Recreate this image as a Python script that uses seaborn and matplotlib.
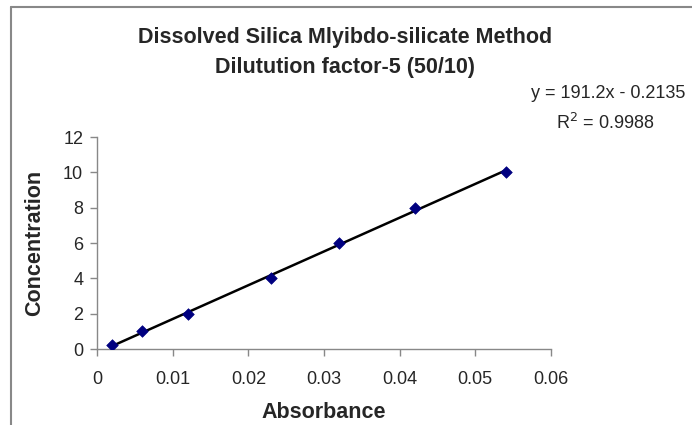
import numpy as np
import pandas as pd
import seaborn as sns
import matplotlib.pyplot as plt
from matplotlib.lines import Line2D

# Data
absorbance = [0.002, 0.006, 0.012, 0.023, 0.032, 0.042, 0.054]
concentration = [0.2, 1, 2, 4, 6, 8, 10]
slope = 191.2
intercept = -0.2135
r_squared = 0.9988
x_ticks = [0, 0.01, 0.02, 0.03, 0.04, 0.05, 0.06]
x_tick_labels = ["0", "0.01", "0.02", "0.03", "0.04", "0.05", "0.06"]

df = pd.DataFrame({"Absorbance": absorbance, "Concentration": concentration})
fit = pd.DataFrame({"Absorbance": [min(absorbance), max(absorbance)]})
fit["Concentration"] = slope * fit["Absorbance"] + intercept

sns.set_style("white")
plt.rcParams["font.family"] = ["Liberation Sans", "DejaVu Sans"]

fig = plt.figure(figsize=(6.92, 4.25), dpi=100)
ax = fig.add_axes([0.1402, 0.1788, 0.656, 0.4988])

sns.lineplot(data=fit, x="Absorbance", y="Concentration", color="black",
             linewidth=1.8, ax=ax)
sns.scatterplot(data=df, x="Absorbance", y="Concentration", marker="D",
                color="#000080", s=35, edgecolor="#000080", zorder=3, ax=ax)

ax.set_xlim(0, 0.06)
ax.set_ylim(0, 12)
ax.set_xticks(x_ticks)
ax.set_xticklabels(x_tick_labels)
ax.set_yticks(range(0, 13, 2))
ax.tick_params(axis="both", labelsize=13, length=5, width=1, color="#888888",
               direction="out", bottom=True, left=True)
ax.tick_params(axis="x", pad=11)
ax.tick_params(axis="y", pad=5)
for side in ["top", "right"]:
    ax.spines[side].set_visible(False)
for side in ["left", "bottom"]:
    ax.spines[side].set_color("#888888")
    ax.spines[side].set_linewidth(1)

ax.set_xlabel("Absorbance", fontsize=15.5, fontweight="bold", labelpad=10)
ax.set_ylabel("Concentration", fontsize=15.5, fontweight="bold", labelpad=13)

fig.text(0.499, 0.899, "Dissolved Silica Mlyibdo-silicate Method",
         ha="center", va="baseline", fontsize=15.5, fontweight="bold")
fig.text(0.499, 0.828, "Dilutution factor-5 (50/10)",
         ha="center", va="baseline", fontsize=15.5, fontweight="bold")
fig.text(0.991, 0.769, f"y = {slope}x - {abs(intercept)}",
         ha="right", va="baseline", fontsize=13)
fig.text(0.874, 0.696, f"R$^2$ = {r_squared}",
         ha="center", va="baseline", fontsize=13)

# outer chart border (left and top visible)
fig.add_artist(Line2D([0.016, 0.016], [0, 0.984], color="#888888", lw=1.5))
fig.add_artist(Line2D([0.016, 1.0], [0.984, 0.984], color="#888888", lw=1.5))

fig.savefig("out.png", dpi=100)
